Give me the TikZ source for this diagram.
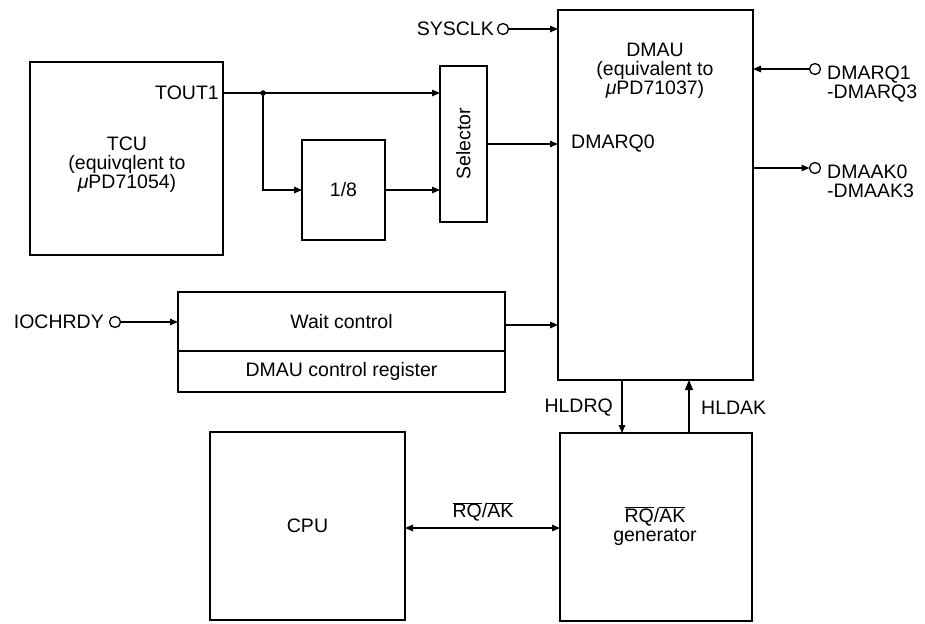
\documentclass[tikz,border=0pt]{standalone}
\usepackage{fontspec}
\setmainfont{Liberation Sans}
\usetikzlibrary{arrows.meta}
\tikzset{
  box/.style={draw, line width=2.6pt, inner sep=0pt, outer sep=0pt},
  txt/.style={inner sep=0pt, font=\fontsize{19.5}{18.8}\selectfont, align=center},
  conn/.style={line width=1.3pt, -{Triangle[length=8pt,width=6.5pt]}},
  dconn/.style={line width=1.3pt, {Triangle[length=8pt,width=6.5pt]}-{Triangle[length=8pt,width=6.5pt]}},
  term/.style={draw, circle, line width=1.3pt, minimum size=11pt, inner sep=0pt, outer sep=0pt}
}
\begin{document}
\begin{tikzpicture}[x=1pt,y=-1pt]
\useasboundingbox (0,0) rectangle (925,623);
% boxes
\node[box, minimum width=193pt, minimum height=193pt] (tcu) at (126.5,158.5) {};
\node[txt] (tcut) at (127,165) {TCU\\(equivqlent to\\\textit{μ}PD71054)};
\node[box, minimum width=83pt, minimum height=100pt, txt] (div) at (343.5,190) {1/8};
\node[box, minimum width=47pt, minimum height=156pt] (sel) at (463.5,144) {};
\node[txt, rotate=90] (selt) at (sel.center) {Selector};
\node[box, minimum width=195pt, minimum height=370pt] (dmau) at (655.5,195) {};
\node[txt] (dmaut) at (655,71) {DMAU\\(equivalent to\\\textit{μ}PD71037)};
\node[txt, anchor=west] (dq0) at (571,144) {DMARQ0};
\node[box, minimum width=327pt, minimum height=59pt, txt] (wait) at (341.5,321.5) {Wait control};
\node[box, minimum width=327pt, minimum height=41pt, txt] (reg) at (341.5,371.5) {DMAU control register};
\node[box, minimum width=195pt, minimum height=188pt, txt] (cpu) at (307.5,526) {CPU};
\node[box, minimum width=192pt, minimum height=188pt] (gen) at (656,527) {};
\node[txt] (gent) at (655,526) {$\overline{\hbox{RQ}}$/$\overline{\hbox{AK}}$\\generator};
% TCU -> selector
\node[txt, anchor=east] (tout1) at (219,93) {TOUT1};
\coordinate (tout) at (tcu.east |- tout1);
\coordinate (j) at (263,93);
\draw[line width=1.3pt] (tout) -- (j);
\draw[conn] (j) -- (sel.west |- j);
\fill (j) circle (2.8pt);
\draw[conn] (j) |- (div.west);
\draw[conn] (div.east) -- (sel.west |- div.east);
\draw[conn] (sel.east) -- (dmau.west |- sel.east);
% SYSCLK
\node[term] (sysc) at (503,29) {};
\node[txt, anchor=east] (syscl) at (494,29) {SYSCLK};
\draw[conn] (sysc) -- (dmau.west |- sysc);
% DMARQ1
\node[term] (rq1) at (815,69) {};
\node[txt, anchor=north west, align=left] (rq1l) at (827,66) {DMARQ1\\-DMARQ3};
\draw[conn] (rq1) -- (dmau.east |- rq1);
% DMAAK0
\node[term] (ak0) at (815,168) {};
\node[txt, anchor=north west, align=left] (ak0l) at (827,165) {DMAAK0\\-DMAAK3};
\draw[conn] (dmau.east |- ak0) -- (ak0);
% IOCHRDY
\node[term] (ioc) at (115,322) {};
\node[txt, anchor=east] (iocl) at (104,322) {IOCHRDY};
\draw[conn] (ioc) -- (wait.west |- ioc);
\coordinate (yw) at (0,325);
\draw[conn] (wait.east |- yw) -- (dmau.west |- yw);
% HLDRQ / HLDAK
\coordinate (xq) at (622,0);
\coordinate (xk) at (689,0);
\draw[conn] (dmau.south -| xq) -- (gen.north -| xq);
\draw[line width=1.3pt, -{Triangle[length=10pt,width=8pt]}] (gen.north -| xk) -- (dmau.south -| xk);
\node[txt, anchor=east] (hrq) at (613,408) {HLDRQ};
\node[txt, anchor=west] (hak) at (701,408) {HLDAK};
% RQ/AK
\coordinate (yr) at (0,528);
\draw[dconn] (cpu.east |- yr) -- (gen.west |- yr);
\node[txt] (rqak) at (483,512) {$\overline{\hbox{RQ}}$/$\overline{\hbox{AK}}$};
\end{tikzpicture}
\end{document}
